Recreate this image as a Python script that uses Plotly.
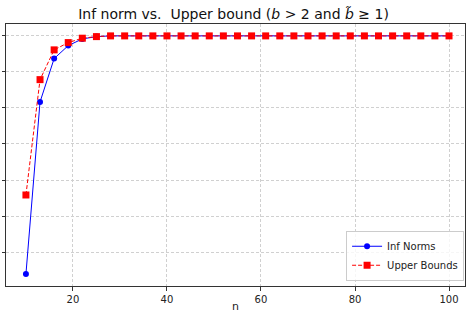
import plotly.graph_objects as go

n_values = list(range(10, 101, 3))
inf_norms = [0.6694, 0.9083, 0.9685, 0.9865, 0.9958, 0.999] + [1.0] * 25
upper_bounds = [0.7792, 0.9393, 0.9806, 0.9907, 0.9968, 0.999] + [1.0] * 25
x_ticks = [20, 40, 60, 80, 100]
y_ticks = [0.70, 0.75, 0.80, 0.85, 0.90, 0.95, 1.00]

fig = go.Figure()
fig.add_trace(go.Scatter(
    x=n_values, y=inf_norms, mode="lines+markers", name="Inf Norms",
    line=dict(color="blue", width=1),
    marker=dict(symbol="circle", size=6, color="blue")))
fig.add_trace(go.Scatter(
    x=n_values, y=upper_bounds, mode="lines+markers", name="Upper Bounds",
    line=dict(color="red", width=1, dash="4px,2px"),
    marker=dict(symbol="square", size=7, color="red")))

axis_common = dict(
    showline=True, linecolor="#333", linewidth=1, mirror=True,
    showgrid=True, gridcolor="#d0d0d0", griddash="3px,2px", gridwidth=0.7,
    ticks="outside", ticklen=3.5, tickcolor="#333", zeroline=False,
    automargin=False)

fig.update_layout(
    width=467, height=313,
    margin=dict(l=6, r=2, t=24, b=27),
    paper_bgcolor="white", plot_bgcolor="white",
    font=dict(family="DejaVu Sans", color="#222", size=10),
    title=dict(text="Inf norm vs.  Upper bound (<i>b</i> > 2 and <i>b\u0303</i> ≥ 1)",
               x=0.5, xanchor="center", y=0.955, yanchor="middle",
               font=dict(size=14, color="#111"), automargin=False),
    xaxis=dict(range=[5.76, 103.4], tickvals=x_ticks,
               title=dict(text="n", standoff=0, font=dict(size=11)), **axis_common),
    yaxis=dict(range=[0.6529, 1.0165], tickvals=y_ticks, showticklabels=False, **axis_common),
    legend=dict(x=0.998, xanchor="right", y=0.02, yanchor="bottom",
                bgcolor="rgba(255,255,255,0.8)", bordercolor="#cccccc", borderwidth=1,
                font=dict(size=10), tracegroupgap=0, itemwidth=30),
    showlegend=True,
)

fig.write_html("out.html", config={"displayModeBar": False},
               post_script="document.body.style.margin='0px';document.body.style.overflow='hidden';")
